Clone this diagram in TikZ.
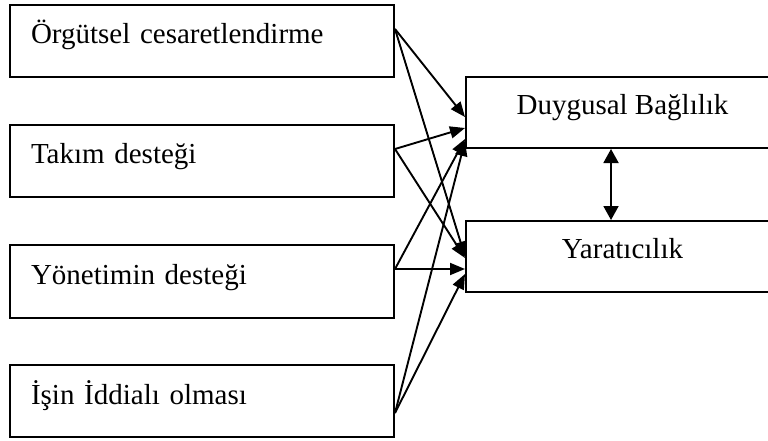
\documentclass[tikz,border=0pt]{standalone}
\usepackage{fontspec}
\setmainfont{Liberation Serif}
\usetikzlibrary{arrows.meta}
\begin{document}
\begin{tikzpicture}[x=1pt,y=-1pt,
 box/.style={draw, line width=2pt, anchor=north west, inner sep=0pt, font=\fontsize{29}{34}\selectfont},
 lbox/.style={box, minimum width=384pt, minimum height=72pt, text width=342pt, align=left, text height=20pt, text depth=14pt},
 rbox/.style={box, minimum width=313pt, minimum height=71pt, text height=20pt, text depth=17pt},
 conn/.style={line width=1.9pt, -{Triangle[length=15pt,width=12pt]}},
 dconn/.style={line width=1.9pt, {Triangle[length=14pt,width=15pt]}-{Triangle[length=14pt,width=15pt]}},
]
\useasboundingbox (0,0) rectangle (768,441);
\clip (0,0) rectangle (768,441);
\fill[white] (0,0) rectangle (768,441);

\node[lbox] (b1) at (9,4) {Örgütsel cesaretlendirme};
\node[lbox] (b2) at (9,124) {Takım desteği};
\node[lbox, minimum height=73pt] (b3) at (9,244) {Yönetimin desteği};
\node[lbox] (b4) at (9,364) {İşin İddialı olması};

\node[rbox] (a) at (465,76) {Duygusal Bağlılık};
\node[rbox] (b) at (465,220) {Yaratıcılık};

\coordinate (s1) at ([yshift=12pt]b1.east);
\coordinate (s2) at ([yshift=12pt]b2.east);
\coordinate (s3) at ([yshift=12.5pt]b3.east);
\coordinate (s4) at ([yshift=-12pt]b4.east);

\coordinate (a1) at ([yshift=-4.5pt]a.west);
\coordinate (a2) at ([yshift=-15.5pt]a.west);
\coordinate (a3) at ([yshift=-26.5pt]a.west);
\coordinate (a4) at ([yshift=-28.5pt]a.west);

\coordinate (t1) at ([yshift=0pt]b.west);
\coordinate (t2) at ([yshift=-1.5pt]b.west);
\coordinate (t3) at ([yshift=-12.5pt]b.west);
\coordinate (t4) at ([yshift=-17.5pt]b.west);

\draw[conn] (s1) -- (a1);
\draw[conn] (s1) -- (t1);
\draw[conn] (s2) -- (a2);
\draw[conn] (s2) -- (t2);
\draw[conn] (s3) -- (a3);
\draw[conn] (s3) -- (t3);
\draw[conn] (s4) -- (a4);
\draw[conn] (s4) -- (t4);

\draw[dconn] ([xshift=-11.5pt]a.south) -- ([xshift=-11.5pt]b.north);
\end{tikzpicture}
\end{document}
